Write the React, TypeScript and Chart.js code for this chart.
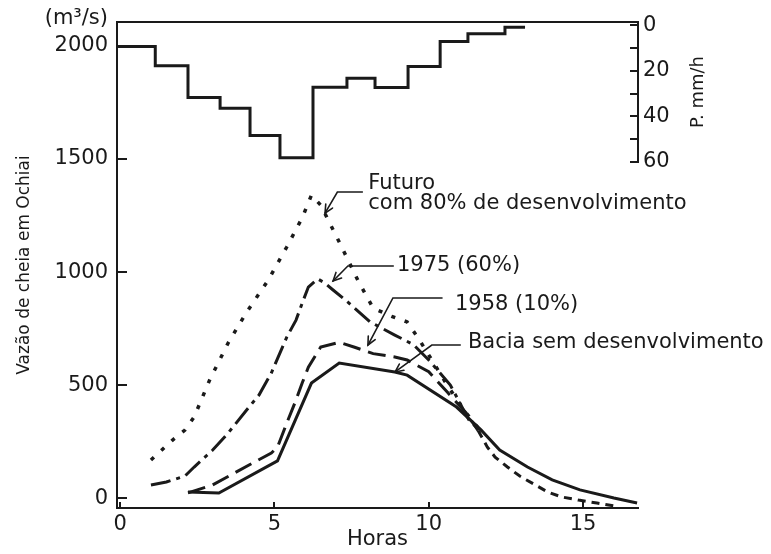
import React, { useEffect, useRef } from "react";
import { Chart, registerables } from "chart.js";

Chart.register(...registerables);

// ---- Hydrographs: hours vs discharge (m³/s) ----
const futuroHours = [1.0, 1.7, 2.1, 2.4, 2.9, 3.5, 4.1, 4.8, 5.4, 5.9, 6.2, 6.5, 7.1, 7.7, 8.2, 8.8, 9.3, 9.7, 10.1, 10.6, 11.2, 11.7];
const futuroFlow = [170, 258, 302, 360, 523, 687, 823, 965, 1111, 1240, 1340, 1296, 1133, 965, 841, 805, 780, 700, 612, 500, 380, 295];

const y1975Hours = [1.0, 1.5, 2.1, 2.4, 3.0, 3.5, 4.1, 4.5, 4.9, 5.4, 5.7, 5.9, 6.1, 6.4, 6.6, 6.9, 7.3, 8.1, 8.9, 9.5, 10.0, 10.7, 11.3, 11.7];
const y1975Flow = [60, 73, 99, 139, 214, 289, 391, 457, 554, 713, 788, 863, 934, 970, 955, 921, 877, 780, 722, 680, 612, 501, 347, 295];

const y1958Hours = [2.2, 3.0, 3.7, 4.3, 4.9, 5.1, 5.4, 5.7, 5.9, 6.1, 6.5, 7.1, 7.6, 8.2, 8.9, 9.3, 10.0, 10.6, 11.2, 11.6, 11.9, 12.15, 12.55, 12.95, 13.4, 13.85, 14.3, 14.85, 15.45, 16.0];
const y1958Flow = [25, 60, 112, 157, 201, 227, 333, 435, 510, 580, 669, 690, 668, 640, 625, 612, 560, 470, 380, 300, 227, 183, 139, 99, 64, 29, 7, -7, -20, -33];
const y1958TailFrom = 11.6;

const baciaHours = [2.2, 3.2, 5.1, 6.2, 7.1, 8.9, 9.3, 10.9, 11.7, 12.3, 13.2, 14.0, 14.9, 16.0, 16.75];
const baciaFlow = [29, 24, 166, 510, 598, 559, 545, 404, 302, 214, 139, 82, 38, 2, -20];

// ---- Hyetograph: step start (hours) and rainfall intensity (mm/h) ----
const rainHours = [-0.1, 1.14, 2.2, 3.24, 4.21, 5.18, 6.25, 7.35, 8.26, 9.33, 10.37, 11.27, 12.47, 13.12];
const rainRate = [9.3, 17.7, 31.7, 36.4, 48.4, 58.1, 27.2, 23.2, 27.3, 18.1, 7.1, 3.7, 0.8, 0.8];

// ---- Axis ticks ----
const flowTicks = [0, 500, 1000, 1500, 2000];
const hourTicks = [0, 5, 10, 15];
const rainTicks = [0, 10, 20, 30, 40, 50, 60];
const rainLabelled = [0, 20, 40, 60];

// ---- Annotations (data coordinates) ----
const noteTexts = ["Futuro", "com 80% de desenvolvimento", "1975 (60%)", "1958 (10%)", "Bacia sem desenvolvimento"];
const noteHours = [8.04, 8.04, 8.97, 10.85, 11.27];
const noteFlows = [1393, 1305, 1027, 855, 687];

const leaderHours = [
  [7.85, 7.04, 6.64],
  [8.85, 7.38, 6.9],
  [10.43, 8.84, 8.03],
  [11.02, 10.1, 8.91],
];
const leaderFlows = [
  [1354, 1354, 1261],
  [1027, 1027, 961],
  [886, 886, 678],
  [678, 678, 559],
];

const INK = "#1a1a1a";
const FAMILY = '"DejaVu Sans", sans-serif';

const toPoints = (xs: number[], ys: number[]) => xs.map((x, i) => ({ x, y: ys[i] }));

const noPad = (s: any) => {
  s.paddingTop = 0;
  s.paddingBottom = 0;
  s.paddingLeft = 0;
  s.paddingRight = 0;
};

const notesPlugin = {
  id: "notes",
  afterDraw(chart: any) {
    const { ctx, scales, chartArea } = chart;
    const xs = scales.x;
    const ys = scales.y;
    const y2 = scales.y2;
    ctx.save();
    ctx.fillStyle = INK;
    ctx.strokeStyle = INK;
    ctx.font = `21px ${FAMILY}`;
    ctx.textBaseline = "middle";
    ctx.textAlign = "left";
    noteTexts.forEach((t, i) => {
      ctx.fillText(t, xs.getPixelForValue(noteHours[i]), ys.getPixelForValue(noteFlows[i]));
    });

    ctx.lineWidth = 1.6;
    ctx.lineCap = "round";
    leaderHours.forEach((hs, i) => {
      const pts = hs.map((h, j) => [xs.getPixelForValue(h), ys.getPixelForValue(leaderFlows[i][j])]);
      ctx.beginPath();
      ctx.moveTo(pts[0][0], pts[0][1]);
      for (let k = 1; k < pts.length; k++) ctx.lineTo(pts[k][0], pts[k][1]);
      ctx.stroke();
      const [ex, ey] = pts[pts.length - 2];
      const [tx, ty] = pts[pts.length - 1];
      const ang = Math.atan2(ty - ey, tx - ex);
      const L = 9;
      const spread = 0.45;
      ctx.beginPath();
      ctx.moveTo(tx - L * Math.cos(ang - spread), ty - L * Math.sin(ang - spread));
      ctx.lineTo(tx, ty);
      ctx.lineTo(tx - L * Math.cos(ang + spread), ty - L * Math.sin(ang + spread));
      ctx.stroke();
    });

    ctx.textAlign = "right";
    ctx.font = `21px ${FAMILY}`;
    ctx.fillText("(m³/s)", ys.right - 9, chartArea.top - 3);

    ctx.translate(y2.left + 60, (y2.top + y2.bottom) / 2);
    ctx.rotate(-Math.PI / 2);
    ctx.textAlign = "center";
    ctx.font = `18px ${FAMILY}`;
    ctx.fillText("P. mm/h", 0, 0);
    ctx.restore();
  },
};

export default function App() {
  const canvasRef = useRef<HTMLCanvasElement | null>(null);

  useEffect(() => {
    if (!canvasRef.current) return;
    const tickFont = { family: FAMILY, size: 21 };
    const base = { pointRadius: 0, borderColor: INK, fill: false, tension: 0, borderCapStyle: "butt" as const };
    const chart = new Chart(canvasRef.current, {
      type: "line",
      data: {
        datasets: [
          {
            ...base,
            label: "Precipitação (mm/h)",
            data: toPoints(rainHours, rainRate),
            xAxisID: "x",
            yAxisID: "y2",
            stepped: true,
            borderWidth: 3,
          },
          {
            ...base,
            label: "Futuro com 80% de desenvolvimento",
            data: toPoints(futuroHours, futuroFlow),
            xAxisID: "x",
            yAxisID: "y",
            borderWidth: 3.5,
            borderDash: [4, 10],
          },
          {
            ...base,
            label: "1975 (60%)",
            data: toPoints(y1975Hours, y1975Flow),
            xAxisID: "x",
            yAxisID: "y",
            borderWidth: 3,
            borderDash: [20, 6, 4, 6],
          },
          {
            ...base,
            label: "1958 (10%)",
            data: toPoints(y1958Hours, y1958Flow),
            xAxisID: "x",
            yAxisID: "y",
            borderWidth: 3,
            borderDash: [18, 8],
            segment: {
              borderDash: (c: any) => (y1958Hours[c.p0DataIndex] >= y1958TailFrom ? [8, 6] : undefined),
            },
          },
          {
            ...base,
            label: "Bacia sem desenvolvimento",
            data: toPoints(baciaHours, baciaFlow),
            xAxisID: "x",
            yAxisID: "y",
            borderWidth: 3,
          },
        ],
      },
      options: {
        animation: false,
        responsive: true,
        maintainAspectRatio: false,
        layout: { padding: { top: 22, left: 0, right: 0, bottom: 0 } },
        plugins: { legend: { display: false }, tooltip: { enabled: false } },
        scales: {
          x: {
            type: "linear",
            position: "bottom",
            min: -0.1,
            max: 16.78,
            afterBuildTicks: (s: any) => {
              s.ticks = hourTicks.map((v) => ({ value: v }));
            },
            afterFit: (s: any) => {
              s.height = 46;
              noPad(s);
            },
            grid: { display: true, drawOnChartArea: false, drawTicks: true, tickLength: -6, color: INK, lineWidth: 2 },
            border: { display: true, color: INK, width: 2 },
            ticks: { font: tickFont, color: INK, padding: 10, maxRotation: 0, autoSkip: false, callback: (v: any) => String(v) },
            title: { display: true, text: "Horas", font: { family: FAMILY, size: 21 }, color: INK, padding: { top: 0, bottom: 2 } },
          },
          xTop: {
            type: "linear",
            position: "top",
            min: -0.1,
            max: 16.78,
            afterFit: (s: any) => {
              s.height = 0;
              noPad(s);
            },
            ticks: { display: false },
            grid: { display: false },
            border: { display: true, color: INK, width: 2 },
          },
          y: {
            type: "linear",
            position: "left",
            min: -42,
            max: 2105,
            afterBuildTicks: (s: any) => {
              s.ticks = flowTicks.map((v) => ({ value: v }));
            },
            afterFit: (s: any) => {
              s.width = 117;
              noPad(s);
            },
            grid: { display: true, drawOnChartArea: false, drawTicks: true, tickLength: -10, color: INK, lineWidth: 2 },
            border: { display: true, color: INK, width: 2 },
            ticks: { font: tickFont, color: INK, padding: 19, autoSkip: false, callback: (v: any) => String(v) },
            title: {
              display: true,
              text: "Vazão de cheia em Ochiai",
              font: { family: FAMILY, size: 17 },
              color: INK,
              padding: { top: 14, bottom: 0 },
            },
          },
          y2: {
            type: "linear",
            position: "right",
            stack: "right",
            stackWeight: 140,
            reverse: true,
            min: -1.5,
            max: 60,
            afterBuildTicks: (s: any) => {
              s.ticks = rainTicks.map((v) => ({ value: v }));
            },
            afterFit: (s: any) => {
              s.width = 133;
              noPad(s);
            },
            grid: { display: true, drawOnChartArea: false, drawTicks: true, tickLength: -8, color: INK, lineWidth: 2 },
            border: { display: true, color: INK, width: 2 },
            ticks: {
              font: tickFont,
              color: INK,
              padding: 13,
              autoSkip: false,
              callback: (v: any) => (rainLabelled.includes(Number(v)) ? String(v) : ""),
            },
          },
          y3: {
            type: "linear",
            position: "right",
            stack: "right",
            stackWeight: 346,
            display: true,
            min: 0,
            max: 1,
            afterFit: (s: any) => {
              s.width = 133;
              noPad(s);
            },
            ticks: { display: false },
            grid: { display: false },
            border: { display: false },
          },
        },
      } as any,
      plugins: [notesPlugin],
    });
    return () => chart.destroy();
  }, []);

  return (
    <div style={{ position: "fixed", left: 0, top: 0, width: 771, height: 554, background: "#fff" }}>
      <canvas ref={canvasRef} />
    </div>
  );
}
